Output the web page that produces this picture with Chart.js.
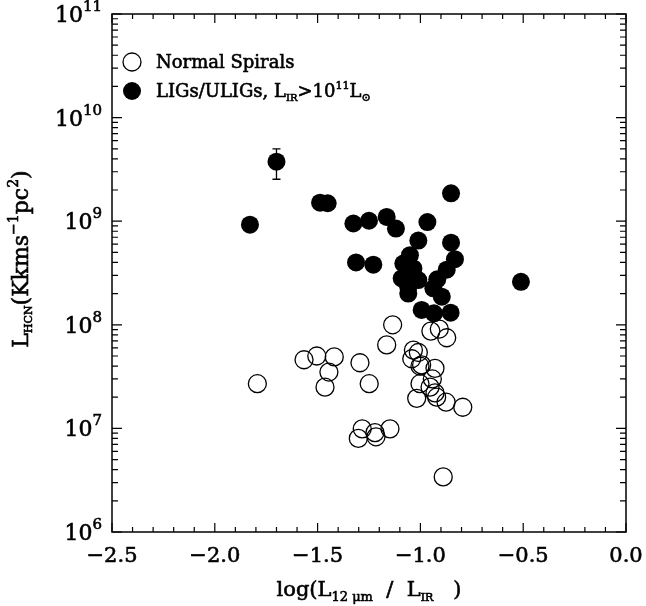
<!DOCTYPE html>
<html>
<head>
<meta charset="utf-8">
<script src="https://cdn.jsdelivr.net/npm/chart.js@4"></script>
<style>
  html, body { margin: 0; padding: 0; background: #fff; }
  #wrap { width: 646px; height: 606px; }
</style>
</head>
<body>
<div id="wrap"><canvas id="hcnChart" width="646" height="606"></canvas></div>
<script>
// Normal spirals: log(L12um/LIR) and L_HCN
const spiralX = [-1.135, -1.164, -1.034, -1.010, -1.042, -0.994, -1.002, -0.929, -0.942, -1.002,
                 -0.953, -0.929, -0.921, -1.018, -0.875, -0.794, -0.949, -0.908, -0.872, -1.566,
                 -1.504, -1.419, -1.445, -1.464, -1.793, -1.294, -1.249, -1.283, -1.302, -1.221,
                 -1.216, -1.148, -0.889];
const spiralY = [1.0e8, 6.4e7, 5.7e7, 5.4e7, 4.7e7, 4.1e7, 4.0e7, 3.8e7, 3.0e7, 2.7e7,
                 2.5e7, 2.2e7, 2.0e7, 1.95e7, 1.79e7, 1.6e7, 8.7e7, 9.1e7, 7.5e7, 4.6e7,
                 5.0e7, 4.9e7, 3.5e7, 2.5e7, 2.7e7, 4.3e7, 2.7e7, 9.9e6, 8.0e6, 9.1e6,
                 8.3e6, 9.9e6, 3.4e6];

// LIGs / ULIGs
const ligX = [-1.829, -1.700, -1.488, -1.451, -1.326, -1.250, -1.164, -1.119, -0.966, -0.851,
              -1.010, -0.851, -1.313, -1.229, -0.832, -0.872, -0.918, -0.937, -0.896, -0.994,
              -0.934, -0.853, -0.511, -1.051, -1.083, -1.034, -1.091, -1.010, -1.059, -1.059];
const ligY = [9.25e8, 3.75e9, 1.51e9, 1.49e9, 9.5e8, 1.01e9, 1.10e9, 8.5e8, 9.8e8, 1.86e9,
              6.5e8, 6.2e8, 4.0e8, 3.8e8, 4.3e8, 3.4e8, 2.75e8, 2.25e8, 1.87e8, 1.39e8,
              1.29e8, 1.31e8, 2.6e8, 4.7e8, 3.9e8, 3.5e8, 2.8e8, 2.7e8, 2.3e8, 2.0e8];

// the one galaxy with an error bar
const errX = [-1.70];
const errLow = [2.54e9];
const errHigh = [4.98e9];

const xTicks = [-2.5, -2.0, -1.5, -1.0, -0.5, 0.0];
const yExponents = [6, 7, 8, 9, 10, 11];

const FONT = '"DejaVu Serif", serif';
const font = size => size + 'px ' + FONT;

// draws a run of text pieces: [text, size, baseline offset]
// a thin stroke over the fill gives the slightly heavy plotting-package look
function drawRich(ctx, parts, x, y, align) {
    let w = 0;
    parts.forEach(p => { ctx.font = font(p[1]); w += ctx.measureText(p[0]).width; });
    let cx = align === 'right' ? x - w : align === 'center' ? x - w / 2 : x;
    ctx.textAlign = 'left';
    ctx.lineWidth = 0.6;
    parts.forEach(p => {
        ctx.font = font(p[1]);
        ctx.fillText(p[0], cx, y + p[2]);
        ctx.strokeText(p[0], cx, y + p[2]);
        cx += ctx.measureText(p[0]).width;
    });
}

const framePlugin = {
    id: 'frame',
    afterDatasetsDraw(chart) {
        const ctx = chart.ctx;
        const xs = chart.scales.x, ys = chart.scales.y;
        const a = chart.chartArea;
        ctx.save();
        ctx.strokeStyle = '#000';
        ctx.fillStyle = '#000';
        ctx.textBaseline = 'alphabetic';

        // error bar
        ctx.lineWidth = 1.3;
        errX.forEach((xv, i) => {
            const px = xs.getPixelForValue(xv);
            const top = ys.getPixelForValue(errHigh[i]);
            const bot = ys.getPixelForValue(errLow[i]);
            ctx.beginPath();
            ctx.moveTo(px, top); ctx.lineTo(px, bot);
            ctx.moveTo(px - 4, top); ctx.lineTo(px + 4, top);
            ctx.moveTo(px - 4, bot); ctx.lineTo(px + 4, bot);
            ctx.stroke();
        });

        // frame
        ctx.lineWidth = 1.5;
        ctx.strokeRect(a.left, a.top, a.right - a.left, a.bottom - a.top);

        // x ticks, inward on bottom and top
        ctx.lineWidth = 1.2;
        ctx.beginPath();
        for (let k = -25; k <= 0; k++) {
            const px = xs.getPixelForValue(k / 10);
            const len = (k % 5 === 0) ? 9 : 5;
            ctx.moveTo(px, a.bottom); ctx.lineTo(px, a.bottom - len);
            ctx.moveTo(px, a.top); ctx.lineTo(px, a.top + len);
        }
        // y ticks, inward on left and right
        for (let e = 6; e <= 11; e++) {
            for (let m = 1; m <= 9; m++) {
                if (e === 11 && m > 1) break;
                const py = ys.getPixelForValue(m * Math.pow(10, e));
                const len = m === 1 ? 10 : 6;
                ctx.moveTo(a.left, py); ctx.lineTo(a.left + len, py);
                ctx.moveTo(a.right, py); ctx.lineTo(a.right - len, py);
            }
        }
        ctx.stroke();

        // x tick labels
        xTicks.forEach(v => {
            const px = xs.getPixelForValue(v);
            const s = (v < 0 ? '\u2212' : '') + Math.abs(v).toFixed(1);
            drawRich(ctx, [[s, 21, 0]], px, a.bottom + 30, 'center');
        });

        // y tick labels
        yExponents.forEach(e => {
            const py = ys.getPixelForValue(Math.pow(10, e));
            drawRich(ctx, [['10', 22, 0], [String(e), 15, -11]], a.left - 10, py + 8, 'right');
        });

        // x title
        drawRich(ctx, [['log(L', 21, 0], ['12 \u03bcm', 13, 5], ['  /  L', 21, 0], ['IR', 11, 5], ['   )', 21, 0]],
                 (a.left + a.right) / 2, 596, 'center');

        // y title
        ctx.save();
        ctx.translate(28, 259);
        ctx.rotate(-Math.PI / 2);
        drawRich(ctx, [['L', 22, 0], ['HCN', 11, 4], ['(Kkms', 22, 0], ['\u22121', 14, -10],
                       ['pc', 22, 0], ['2', 14, -10], [')', 22, 0]], 0, 0, 'center');
        ctx.restore();

        // legend
        ctx.lineWidth = 1.3;
        ctx.beginPath();
        ctx.arc(132, 62, 9, 0, Math.PI * 2);
        ctx.stroke();
        ctx.beginPath();
        ctx.arc(132, 91, 9, 0, Math.PI * 2);
        ctx.fill();
        drawRich(ctx, [['Normal Spirals', 18, 0]], 156, 68, 'left');
        drawRich(ctx, [['LIGs/ULIGs, L', 18, 0], ['IR', 10, 4], ['>10', 18, 0], ['11', 11, -8],
                       ['L', 18, 0], ['\u2299', 11, 4]], 156, 97, 'left');
        ctx.restore();
    }
};

new Chart(document.getElementById('hcnChart'), {
    type: 'scatter',
    data: {
        datasets: [
            {
                label: 'Normal Spirals',
                data: spiralX.map((x, i) => ({ x: x, y: spiralY[i] })),
                pointRadius: 9,
                pointHoverRadius: 9,
                borderWidth: 1.3,
                borderColor: '#000',
                backgroundColor: 'rgba(0,0,0,0)'
            },
            {
                label: 'LIGs/ULIGs',
                data: ligX.map((x, i) => ({ x: x, y: ligY[i] })),
                pointRadius: 9,
                pointHoverRadius: 9,
                borderWidth: 0,
                borderColor: '#000',
                backgroundColor: '#000'
            }
        ]
    },
    options: {
        responsive: false,
        animation: false,
        devicePixelRatio: 1,
        layout: { padding: { left: 112, right: 20, top: 14, bottom: 74 } },
        plugins: { legend: { display: false }, tooltip: { enabled: false } },
        scales: {
            x: { type: 'linear', min: -2.5, max: 0, display: false },
            y: { type: 'logarithmic', min: 1e6, max: 1e11, display: false }
        }
    },
    plugins: [framePlugin]
});
</script>
</body>
</html>
